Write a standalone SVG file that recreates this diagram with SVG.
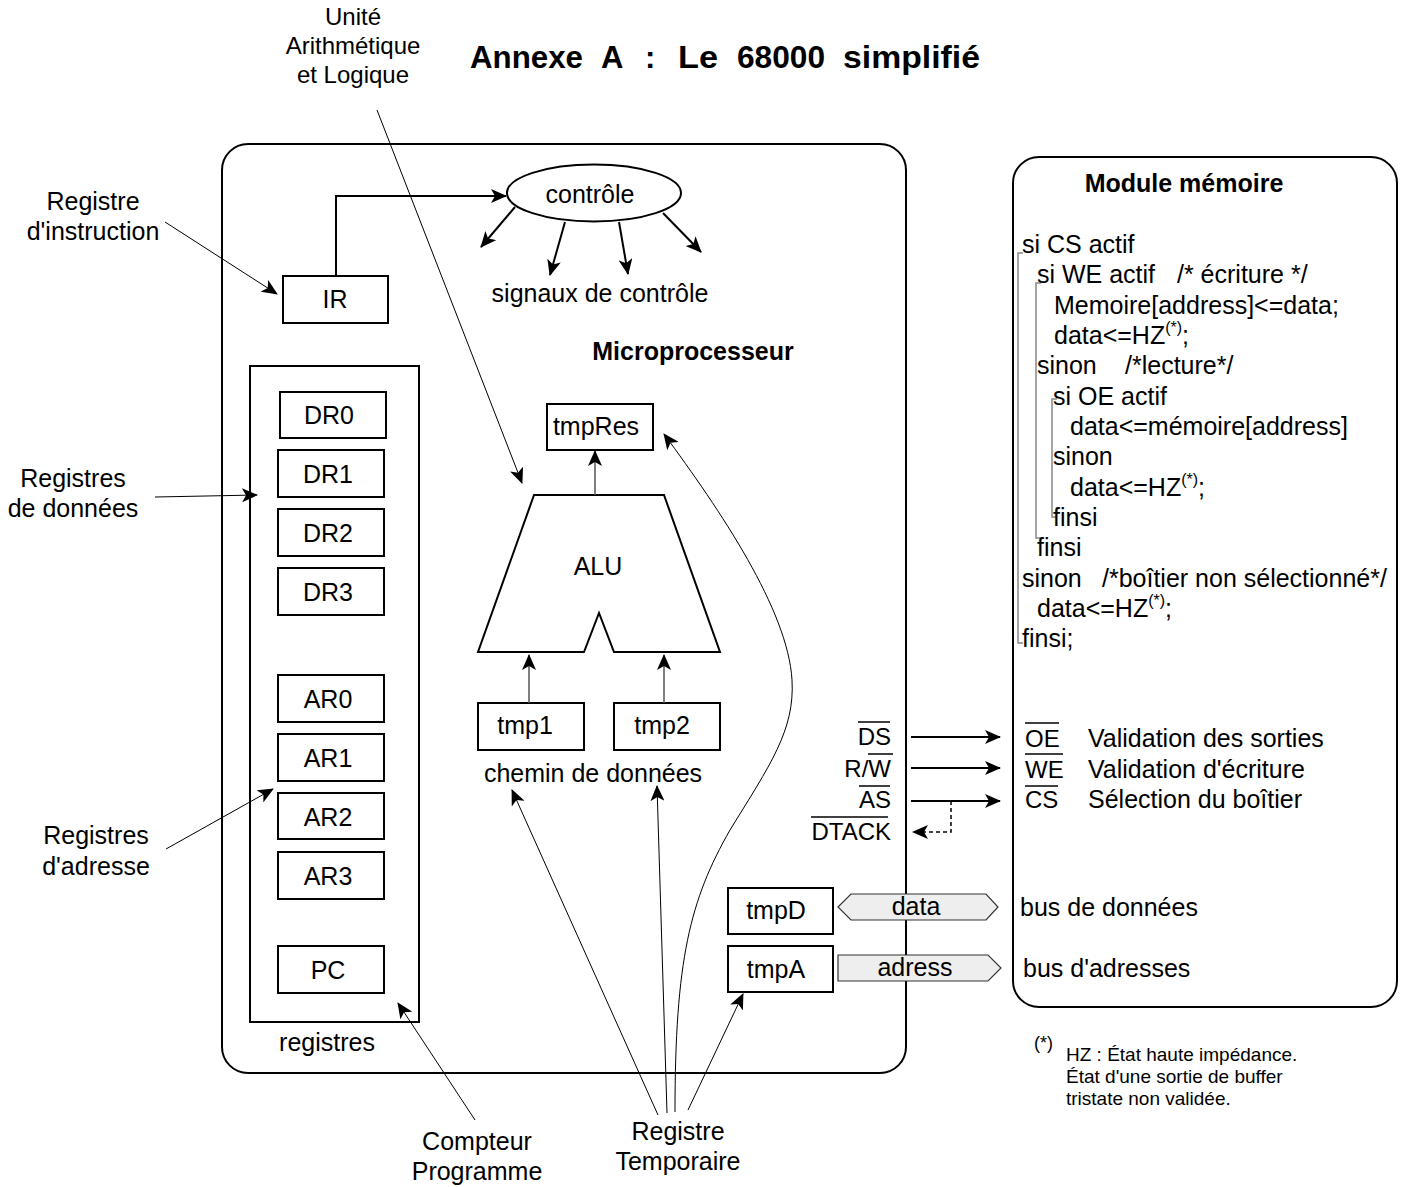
<svg xmlns="http://www.w3.org/2000/svg" width="1403" height="1187" viewBox="0 0 1403 1187">
<defs>
<style>
text{font-family:"Liberation Sans",Arial,sans-serif;font-size:25px;fill:#000}
.c{text-anchor:middle}
.e{text-anchor:end}
.b{font-weight:bold}
.t{font-size:31px;font-weight:bold}
.s24{font-size:24px}
.fn{font-size:19px}
.fs{font-size:18px}
.box{fill:#fff;stroke:#000;stroke-width:2}
.ln{fill:none;stroke:#000;stroke-width:1}
.sig{fill:none;stroke:#000;stroke-width:2}
.gr{fill:none;stroke:#555;stroke-width:1.5}
.br{fill:none;stroke:#888;stroke-width:1.5}
.ov{stroke:#000;stroke-width:1.5}
.sup{font-size:16px}
</style>
<marker id="ah" viewBox="0 0 16 14" refX="15" refY="7" markerWidth="16" markerHeight="14" orient="auto" markerUnits="userSpaceOnUse"><path d="M0,0 L16,7 L0,14 L4,7 z" fill="#000"/></marker>
</defs>
<rect width="1403" height="1187" fill="#fff"/>

<!-- Title -->
<g id="title">
<text x="470" y="68" class="t" textLength="113" lengthAdjust="spacingAndGlyphs">Annexe</text>
<text x="601" y="68" class="t">A</text>
<text x="645" y="68" class="t">:</text>
<text x="678" y="68" class="t" textLength="40" lengthAdjust="spacingAndGlyphs">Le</text>
<text x="737" y="68" class="t" textLength="88" lengthAdjust="spacingAndGlyphs">68000</text>
<text x="843" y="68" class="t" textLength="137" lengthAdjust="spacingAndGlyphs">simplifié</text>
</g>

<!-- Microprocessor container -->
<g id="microprocesseur">
<rect x="222" y="144" width="684" height="929" rx="26" class="box"/>
<text x="693" y="360" class="c b">Microprocesseur</text>
</g>

<!-- Memory module -->
<g id="module-memoire">
<rect x="1013" y="157" width="384" height="850" rx="26" class="box"/>
<text x="1184" y="192" class="c b">Module mémoire</text>
<path class="br" d="M1023,253 H1018 V643 H1023"/>
<path class="br" d="M1041,283 H1036 V538 H1041"/>
<path class="br" d="M1057,399 H1052 V517 H1057"/>
<text x="1022" y="253">si CS actif</text>
<text y="283"><tspan x="1037">si WE actif</tspan><tspan x="1177">/* écriture */</tspan></text>
<text x="1054" y="314">Memoire[address]&lt;=data;</text>
<text x="1054" y="344">data&lt;=HZ<tspan class="sup" dy="-11">(*)</tspan><tspan dy="11">;</tspan></text>
<text y="374"><tspan x="1037">sinon</tspan><tspan x="1125">/*lecture*/</tspan></text>
<text x="1053" y="405">si OE actif</text>
<text x="1070" y="435">data&lt;=mémoire[address]</text>
<text x="1053" y="465">sinon</text>
<text x="1070" y="496">data&lt;=HZ<tspan class="sup" dy="-11">(*)</tspan><tspan dy="11">;</tspan></text>
<text x="1053" y="526">finsi</text>
<text x="1037" y="556">finsi</text>
<text y="587"><tspan x="1022">sinon</tspan><tspan x="1102">/*boîtier non sélectionné*/</tspan></text>
<text x="1037" y="617">data&lt;=HZ<tspan class="sup" dy="-11">(*)</tspan><tspan dy="11">;</tspan></text>
<text x="1022" y="647">finsi;</text>
<text x="1025" y="747" class="s24">OE</text>
<line x1="1025" y1="723" x2="1059" y2="723" class="ov"/>
<text x="1025" y="778" class="s24">WE</text>
<line x1="1025" y1="754" x2="1063" y2="754" class="ov"/>
<text x="1025" y="808" class="s24">CS</text>
<line x1="1025" y1="786" x2="1058" y2="786" class="ov"/>
<text x="1088" y="747">Validation des sorties</text>
<text x="1088" y="778">Validation d'écriture</text>
<text x="1088" y="808">Sélection du boîtier</text>
<text x="1020" y="916">bus de données</text>
<text x="1023" y="977">bus d'adresses</text>
</g>

<!-- Control -->
<g id="controle">
<ellipse cx="594" cy="193" rx="87" ry="28.5" class="box"/>
<text x="590" y="203" class="c">contrôle</text>
<text x="600" y="302" class="c">signaux de contrôle</text>
</g>

<g id="ir">
<rect x="283" y="276" width="105" height="47" class="box"/>
<text x="335" y="308" class="c">IR</text>
</g>

<!-- Registers -->
<g id="registres">
<rect x="250" y="366" width="169" height="656" class="box"/>
<text x="327" y="1051" class="c">registres</text>
</g>
<g id="dr0"><rect x="280" y="392" width="106" height="46" class="box"/><text x="329" y="424" class="c">DR0</text></g>
<g id="dr1"><rect x="278" y="450" width="106" height="47" class="box"/><text x="328" y="483" class="c">DR1</text></g>
<g id="dr2"><rect x="278" y="509" width="106" height="47" class="box"/><text x="328" y="542" class="c">DR2</text></g>
<g id="dr3"><rect x="278" y="568" width="106" height="47" class="box"/><text x="328" y="601" class="c">DR3</text></g>
<g id="ar0"><rect x="278" y="675" width="106" height="47" class="box"/><text x="328" y="708" class="c">AR0</text></g>
<g id="ar1"><rect x="278" y="734" width="106" height="47" class="box"/><text x="328" y="767" class="c">AR1</text></g>
<g id="ar2"><rect x="278" y="793" width="106" height="46" class="box"/><text x="328" y="826" class="c">AR2</text></g>
<g id="ar3"><rect x="278" y="852" width="106" height="47" class="box"/><text x="328" y="885" class="c">AR3</text></g>
<g id="pc"><rect x="278" y="946" width="106" height="47" class="box"/><text x="328" y="979" class="c">PC</text></g>

<!-- ALU and data path -->
<g id="alu">
<path d="M534,495 H664 L720,652 H614 L599,613 L584,652 H478 Z" class="box"/>
<text x="598" y="575" class="c">ALU</text>
</g>
<g id="tmpres"><rect x="547" y="404" width="106" height="46" class="box"/><text x="596" y="435" class="c">tmpRes</text></g>
<g id="tmp1"><rect x="478" y="703" width="106" height="47" class="box"/><text x="525" y="734" class="c">tmp1</text></g>
<g id="tmp2"><rect x="614" y="703" width="106" height="47" class="box"/><text x="662" y="734" class="c">tmp2</text></g>
<text x="593" y="782" class="c">chemin de données</text>
<g id="tmpd"><rect x="728" y="888" width="105" height="46" class="box"/><text x="776" y="919" class="c">tmpD</text></g>
<g id="tmpa"><rect x="728" y="946" width="105" height="46" class="box"/><text x="776" y="978" class="c">tmpA</text></g>

<!-- Buses -->
<g id="bus-data">
<path d="M838,907 L851,894 H986 L998,907 L986,920 H851 Z" fill="#eeeeee" stroke="#333" stroke-width="1.2"/>
<text x="916" y="915" class="c">data</text>
</g>
<g id="bus-adress">
<path d="M838,955 H988 L1001,968 L988,981 H838 Z" fill="#eeeeee" stroke="#333" stroke-width="1.2"/>
<text x="915" y="976" class="c">adress</text>
</g>

<!-- Signals -->
<g id="signaux">
<text x="891" y="745" class="e s24">DS</text>
<line x1="858" y1="722" x2="890" y2="722" class="ov"/>
<text x="891" y="777" class="e s24">R/W</text>
<line x1="868" y1="754" x2="893" y2="754" class="ov"/>
<text x="891" y="808" class="e s24">AS</text>
<line x1="859" y1="786" x2="890" y2="786" class="ov"/>
<text x="891" y="840" class="e s24">DTACK</text>
<line x1="811" y1="817" x2="888" y2="817" class="ov"/>
</g>

<!-- Labels -->
<g id="labels">
<text x="353" y="25" class="c s24">Unité</text>
<text x="353" y="54" class="c s24">Arithmétique</text>
<text x="353" y="83" class="c s24">et Logique</text>
<text x="93" y="210" class="c">Registre</text>
<text x="93" y="240" class="c">d'instruction</text>
<text x="73" y="487" class="c">Registres</text>
<text x="73" y="517" class="c">de données</text>
<text x="96" y="844" class="c">Registres</text>
<text x="96" y="875" class="c">d'adresse</text>
<text x="477" y="1150" class="c">Compteur</text>
<text x="477" y="1180" class="c">Programme</text>
<text x="678" y="1140" class="c">Registre</text>
<text x="678" y="1170" class="c">Temporaire</text>
<text x="1034" y="1049" class="fs">(*)</text>
<text x="1066" y="1061" class="fn">HZ : État haute impédance.</text>
<text x="1066" y="1083" class="fn">État d'une sortie de buffer</text>
<text x="1066" y="1105" class="fn">tristate non validée.</text>
</g>

<!-- Connectors -->
<g id="connecteurs">
<path class="sig" d="M336,276 V196 H506" marker-end="url(#ah)"/>
<line x1="515" y1="207" x2="481" y2="247" class="sig" marker-end="url(#ah)"/>
<line x1="565" y1="222" x2="550" y2="275" class="sig" marker-end="url(#ah)"/>
<line x1="619" y1="222" x2="628" y2="274" class="sig" marker-end="url(#ah)"/>
<line x1="663" y1="213" x2="701" y2="252" class="sig" marker-end="url(#ah)"/>
<line x1="377" y1="110" x2="522" y2="483" class="ln" marker-end="url(#ah)"/>
<line x1="165" y1="222" x2="277" y2="294" class="ln" marker-end="url(#ah)"/>
<line x1="155" y1="497" x2="257" y2="495" class="ln" marker-end="url(#ah)"/>
<line x1="166" y1="849" x2="273" y2="789" class="ln" marker-end="url(#ah)"/>
<line x1="475" y1="1120" x2="398" y2="1003" class="ln" marker-end="url(#ah)"/>
<line x1="595" y1="495" x2="595" y2="451" class="gr" marker-end="url(#ah)"/>
<line x1="529" y1="703" x2="529" y2="655" class="gr" marker-end="url(#ah)"/>
<line x1="664" y1="703" x2="664" y2="655" class="gr" marker-end="url(#ah)"/>
<line x1="658" y1="1115" x2="512" y2="790" class="ln" marker-end="url(#ah)"/>
<line x1="667" y1="1113" x2="657" y2="786" class="ln" marker-end="url(#ah)"/>
<path class="ln" d="M675,1112 C675,960 690,900 730,830 C770,765 795,730 792,680 C788,610 720,510 664,434" marker-end="url(#ah)"/>
<line x1="688" y1="1110" x2="743" y2="994" class="ln" marker-end="url(#ah)"/>
<line x1="911" y1="737" x2="1000" y2="737" class="sig" marker-end="url(#ah)"/>
<line x1="911" y1="768" x2="1000" y2="768" class="sig" marker-end="url(#ah)"/>
<line x1="911" y1="801" x2="1000" y2="801" class="sig" marker-end="url(#ah)"/>
<path d="M951,801 V832 H913" fill="none" stroke="#000" stroke-width="1.5" stroke-dasharray="4,3" marker-end="url(#ah)"/>
</g>
</svg>
